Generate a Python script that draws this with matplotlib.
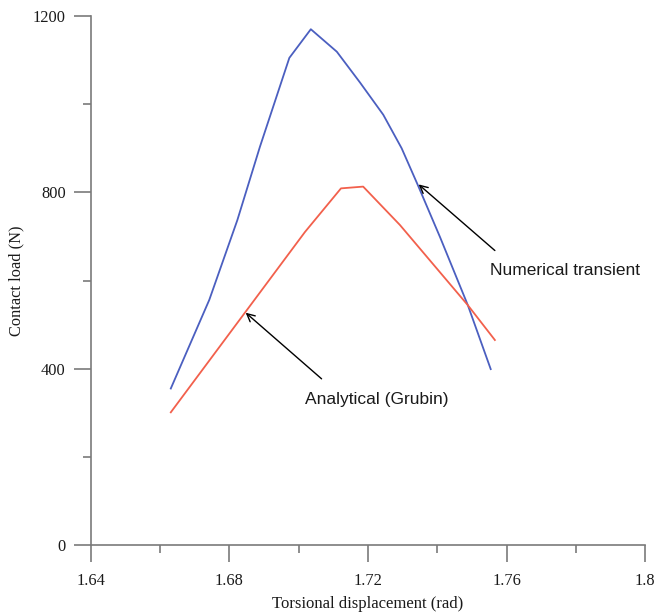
import matplotlib
matplotlib.use("Agg")
import matplotlib.pyplot as plt
from matplotlib.ticker import MultipleLocator, FuncFormatter

# --- data ---
numerical_x = [1.6631, 1.6742, 1.6823, 1.6888, 1.6973, 1.7035, 1.7110,
               1.7177, 1.7244, 1.7297, 1.7344, 1.7408, 1.7488, 1.7554]
numerical_y = [355, 556, 737, 903, 1105, 1170, 1119,
               1049, 976, 900, 816, 698, 544, 399]

analytical_x = [1.6631, 1.7018, 1.7122, 1.7186, 1.7292, 1.7488, 1.7566]
analytical_y = [301, 710, 809, 813, 726, 544, 465]

x_ticks = [1.64, 1.68, 1.72, 1.76, 1.80]
y_ticks = [0, 400, 800, 1200]

BLUE = "#4b5fc0"
RED = "#f2604c"
SPINE = "#7a7a7a"
TEXT = "#1a1a1a"
SERIF = ["Liberation Serif", "DejaVu Serif"]
SANS = ["Liberation Sans", "DejaVu Sans"]

fig = plt.figure(figsize=(6.57, 6.13), dpi=100)
ax = fig.add_axes([0.1381, 0.1109, 0.8441, 0.8630])

ax.plot(numerical_x, numerical_y, color=BLUE, lw=1.3)
ax.plot(analytical_x, analytical_y, color=RED, lw=1.3)

ax.set_xlim(1.64, 1.80)
ax.set_ylim(0, 1200)
ax.set_xticks(x_ticks)
ax.set_yticks(y_ticks)
ax.xaxis.set_minor_locator(MultipleLocator(0.02))
ax.yaxis.set_minor_locator(MultipleLocator(200))
ax.xaxis.set_major_formatter(FuncFormatter(lambda v, p: f"{v:g}"))

for side in ("top", "right"):
    ax.spines[side].set_visible(False)
for side in ("left", "bottom"):
    ax.spines[side].set_color(SPINE)
    ax.spines[side].set_linewidth(1.2)

ax.tick_params(which="major", direction="out", length=12, width=1.2,
               color=SPINE, labelcolor=TEXT, labelsize=11.8)
ax.tick_params(which="minor", direction="out", length=6, width=1.2, color=SPINE)
ax.tick_params(axis="x", which="major", pad=8)
ax.tick_params(axis="y", which="major", pad=6)
for lab in ax.get_xticklabels() + ax.get_yticklabels():
    lab.set_family(SERIF)

ax.set_xlabel("Torsional displacement (rad)", family=SERIF, fontsize=12,
              color=TEXT, labelpad=5)
ax.set_ylabel("Contact load (N)", family=SERIF, fontsize=11.8,
              color=TEXT, labelpad=6)

arrow = dict(arrowstyle="->", color="black", lw=1.0, mutation_scale=14,
             shrinkA=0, shrinkB=0)
ax.annotate("", xy=(1.7346, 818), xytext=(1.7566, 668), arrowprops=arrow)
ax.text(1.7551, 622, "Numerical transient", family=SANS, fontsize=12.5,
        color=TEXT, va="center", ha="left")

ax.annotate("", xy=(1.6847, 527), xytext=(1.7066, 377), arrowprops=arrow)
ax.text(1.7018, 331, "Analytical (Grubin)", family=SANS, fontsize=12.5,
        color=TEXT, va="center", ha="left")

fig.savefig("out.png", dpi=100)
